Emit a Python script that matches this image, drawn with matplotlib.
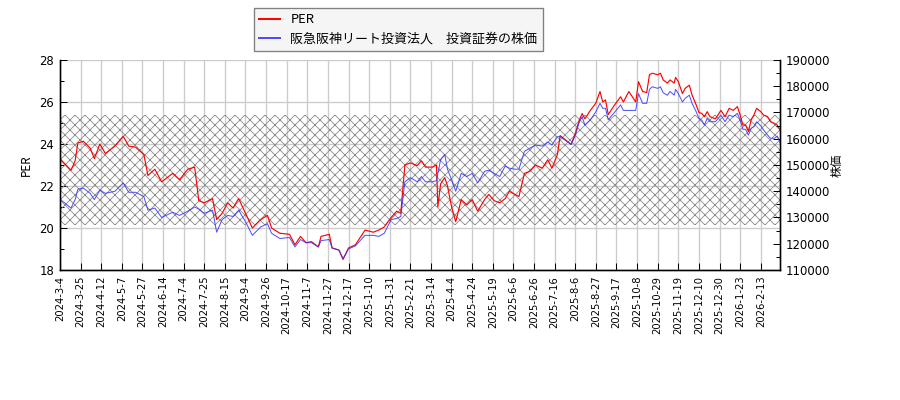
import numpy as np
import matplotlib
matplotlib.use('Agg')
import matplotlib.pyplot as plt
from matplotlib.ticker import MultipleLocator

# trading-day index of each sampled point
day_idx = [0, 8, 11, 13, 17, 22, 25, 29, 33, 40, 46, 50, 55, 61, 64, 69, 74, 82, 87, 93,
           98, 101, 105, 111, 114, 118, 122, 126, 130, 135, 140, 146, 151, 154, 160, 167, 171, 175, 179, 183,
           188, 190, 196, 198, 203, 206, 210, 215, 222, 228, 232, 236, 241, 245, 248, 251, 255, 260, 263, 266,
           271, 274, 275, 277, 280, 282, 285, 288, 292, 296, 300, 304, 309, 312, 316, 320, 324, 327, 331, 334,
           338, 342, 346, 351, 355, 358, 362, 364,
           372, 375, 378, 380, 382, 386, 390, 393, 395, 397, 399, 403, 408, 410, 414, 419, 421, 424, 427, 429,
           431, 435, 437, 439, 442, 444, 447, 448, 450, 453, 455, 458, 460, 463, 465, 467, 469, 471, 473, 477,
           481, 484, 487, 490, 493, 495, 497, 499, 501, 503, 505, 507, 510, 512, 515, 517, 520, 522, 524]

per = [23.3, 22.75, 23.2, 24.05, 24.13, 23.8, 23.3, 24.0, 23.55, 23.9, 24.37, 23.9, 23.85, 23.5, 22.5, 22.8, 22.2, 22.6, 22.3, 22.8,
       22.9, 21.3, 21.2, 21.4, 20.4, 20.7, 21.2, 20.95, 21.4, 20.7, 20.0, 20.4, 20.6, 20.0, 19.75, 19.7, 19.2, 19.6, 19.3, 19.35,
       19.1, 19.6, 19.7, 19.05, 18.95, 18.5, 19.05, 19.2, 19.9, 19.8, 19.9, 20.05, 20.5, 20.8, 20.7, 23.0, 23.1, 22.97, 23.2, 22.9,
       22.9, 23.0, 21.0, 22.1, 22.4, 22.0, 21.0, 20.3, 21.35, 21.1, 21.35, 20.8, 21.35, 21.6, 21.3, 21.2, 21.4, 21.75, 21.6, 21.5,
       22.6, 22.7, 23.0, 22.85, 23.25, 22.85, 23.5, 24.4,
       23.98, 24.5, 25.15, 25.45, 25.2, 25.6, 25.95, 26.5, 26.0, 26.1, 25.4, 25.8, 26.25, 26.0, 26.5, 26.0, 26.97, 26.5, 26.45, 27.3,
       27.37, 27.3, 27.37, 27.05, 26.9, 27.05, 26.9, 27.17, 26.97, 26.4, 26.65, 26.8, 26.33, 25.86, 25.5, 25.46, 25.3, 25.54, 25.3, 25.2,
       25.6, 25.3, 25.7, 25.6, 25.78, 25.38, 24.9, 24.9, 24.6, 25.15, 25.38, 25.7, 25.54, 25.38, 25.3, 25.06, 24.98, 24.9, 24.67]

price = [137000, 133600, 136800, 140800, 141200, 139200, 136800, 140400, 139200, 140000,
         143200, 139600, 139600, 138000, 132800, 133600, 130000, 132000, 130800, 132400,
         134000, 133200, 131600, 132800, 124400, 129200, 130800, 130400, 132800, 128400,
         123200, 126400, 127600, 124000, 122000, 122400, 118800, 121600, 120400, 120400,
         118800, 121200, 121600, 118400, 117600, 114400, 118000, 119200, 123200, 123200,
         122800, 124000, 129200, 129600, 130400, 143600, 145200, 143600, 145600, 143600,
         143600, 144000, 146800, 152000, 154000, 148400, 144400, 140000, 146800, 145600,
         146800, 143200, 147600, 148000, 146800, 145600, 149600, 148800, 148400, 148400,
         155200, 156400, 157600, 157200, 158800, 157600, 160800, 160800,
         157800, 161200, 166500, 168400, 165200, 167200, 170300, 173500, 171600, 171600,
         167200, 169700, 172900, 170800, 170800, 170800, 177200, 173500, 173500, 178800,
         179800, 179200, 179800, 177500, 176600, 178000, 176600, 178800, 177200, 174000,
         175400, 176600, 173500, 170300, 167800, 167100, 165200, 167800, 166500, 166500,
         169000, 166500, 169000, 168400, 169700, 167100, 163600, 163600, 161400, 164000,
         164600, 166500, 164900, 163400, 161400, 160200, 160200, 161000, 158500]

tick_labels = ['2024-3-4', '2024-3-25', '2024-4-12', '2024-5-7', '2024-5-27', '2024-6-14', '2024-7-4',
               '2024-7-25', '2024-8-15', '2024-9-4', '2024-9-26', '2024-10-17', '2024-11-7', '2024-11-27',
               '2024-12-17', '2025-1-10', '2025-1-31', '2025-2-21', '2025-3-14', '2025-4-4', '2025-4-24',
               '2025-5-19', '2025-6-6', '2025-6-26', '2025-7-16', '2025-8-6', '2025-8-27', '2025-9-17',
               '2025-10-8', '2025-10-29', '2025-11-19', '2025-12-10', '2025-12-30', '2026-1-23', '2026-2-13']
tick_step = 15

band_low, band_high = 20.15, 25.4

jp = ['Noto Sans CJK JP', 'DejaVu Sans']
plt.rcParams['hatch.color'] = '#8c8c8c'
plt.rcParams['hatch.linewidth'] = 0.5

fig = plt.figure(figsize=(7.5, 10 / 3), dpi=120)
ax = fig.add_axes([60 / 900, 130 / 400, 720 / 900, 210 / 400])
ax2 = ax.twinx()

ax.fill_between([day_idx[0], day_idx[-1]], band_low, band_high, facecolor='none',
                edgecolor='#8c8c8c', hatch='xxxx', linewidth=0, zorder=1)
l1, = ax.plot(day_idx, per, color='red', lw=0.7, zorder=3)
l2, = ax2.plot(day_idx, price, color='#3030ff', lw=0.6, alpha=0.85)

ax.set_xlim(day_idx[0], day_idx[-1])
ax.set_ylim(18, 28)
ax2.set_ylim(110000, 190000)
ax.yaxis.set_major_locator(MultipleLocator(2))
ax.yaxis.set_minor_locator(MultipleLocator(1))
ax2.yaxis.set_major_locator(MultipleLocator(10000))
ax2.yaxis.set_minor_locator(MultipleLocator(5000))

ticks = np.arange(len(tick_labels)) * tick_step
ax.set_xticks(ticks)
ax.set_xticklabels(tick_labels, rotation=90, fontsize=6)
ax.grid(True, color='#cccccc', lw=0.8)
ax.set_axisbelow(True)

for a in (ax, ax2):
    a.tick_params(which='both', direction='in', width=0.6)
    a.tick_params(which='major', length=4)
    a.tick_params(which='minor', length=2.5)
    a.spines['top'].set_visible(False)
ax.tick_params(axis='y', labelsize=7)
ax2.tick_params(axis='y', labelsize=7)

ax.set_ylabel('PER', family=jp, fontsize=7)
ax2.set_ylabel('株価', family=jp, fontsize=7, labelpad=0)

leg = fig.legend([l1, l2], ['PER', '阪急阪神リート投資法人　投資証券の株価'],
                 loc='upper left', bbox_to_anchor=(254 / 900, 1 - 8 / 400), borderaxespad=0,
                 prop={'family': jp, 'size': 7.8}, fancybox=False, framealpha=1,
                 facecolor='#f5f5f5', edgecolor='#808080', handlelength=1.6,
                 labelspacing=0.5)
leg.get_frame().set_linewidth(0.8)
for h in leg.get_lines():
    h.set_linewidth(1.2)

fig.savefig('out.png', dpi=120)
